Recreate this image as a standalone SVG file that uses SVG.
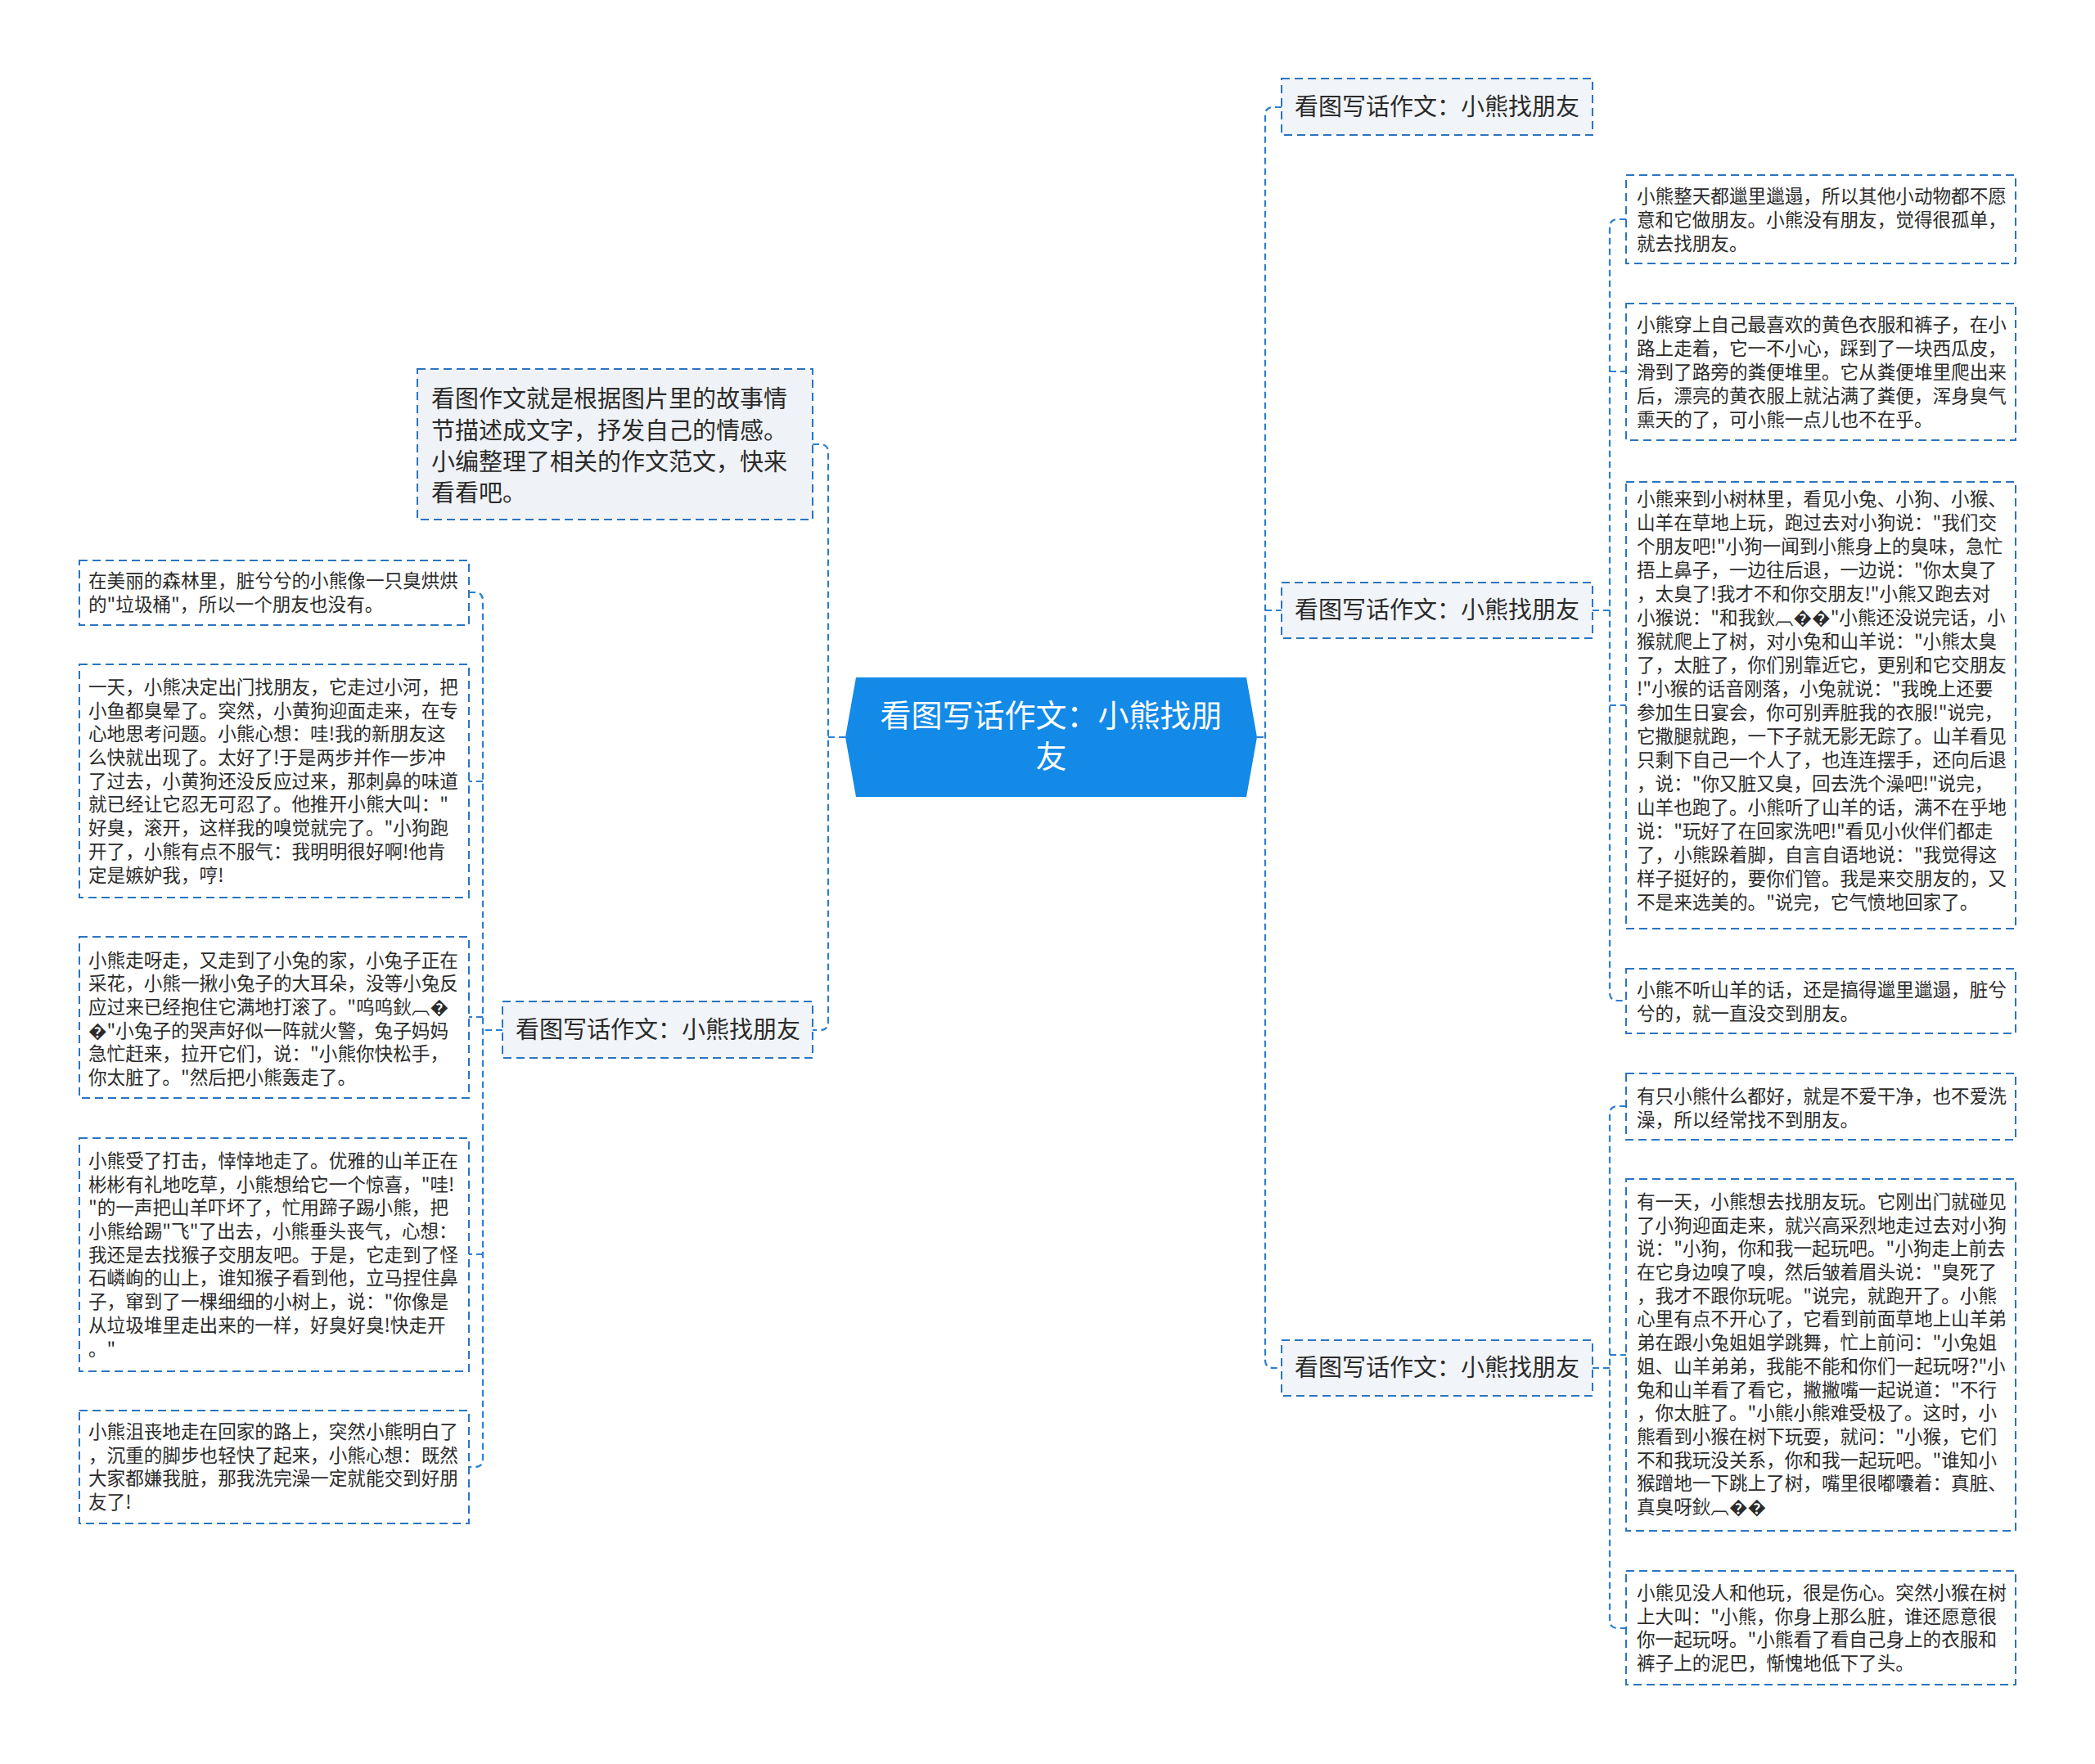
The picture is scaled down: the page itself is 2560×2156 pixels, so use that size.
<svg xmlns="http://www.w3.org/2000/svg" width="2560" height="2156" viewBox="0 0 2560 2156">
<style>
.bg{fill:#ffffff}
.box{fill:#ffffff;stroke:#2b74c0;stroke-width:2;stroke-dasharray:10 6}
.lbl{fill:#f1f4f8;stroke:#2b74c0;stroke-width:2;stroke-dasharray:10 6}
.conn{fill:none;stroke:#2b7fd4;stroke-width:2.2;stroke-dasharray:8 5}
.t{font-family:"Noto Sans CJK SC","Noto Sans",sans-serif;fill:#2b2b2b}
.s{font-size:22.6px}
.m{font-size:29px}
.c{font-size:38px;fill:#ffffff}
</style>
<rect class="bg" x="0" y="0" width="2560" height="2156"/>
<g id="connectors">
<path class="conn" d="M1536,901 H1546"/>
<path class="conn" d="M1566,131 H1556 Q1546,131 1546,141 V1662 Q1546,1672 1556,1672 H1566"/>
<path class="conn" d="M1546,746 H1566"/>
<path class="conn" d="M1946,746 H1967"/>
<path class="conn" d="M1987,268 H1977 Q1967,268 1967,278 V1213 Q1967,1223 1977,1223 H1987"/>
<path class="conn" d="M1967,454 H1987"/>
<path class="conn" d="M1967,862 H1987"/>
<path class="conn" d="M1946,1672 H1967"/>
<path class="conn" d="M1987,1352 H1977 Q1967,1352 1967,1362 V1980 Q1967,1990 1977,1990 H1987"/>
<path class="conn" d="M1967,1656 H1987"/>
<path class="conn" d="M1033,901 H1012"/>
<path class="conn" d="M993,543 H1002 Q1012,543 1012,553 V1249 Q1012,1259 1002,1259 H993"/>
<path class="conn" d="M614,1259 H590"/>
<path class="conn" d="M573,724 H580 Q590,724 590,734 V1783 Q590,1793 580,1793 H573"/>
<path class="conn" d="M590,955 H573"/>
<path class="conn" d="M590,1243 H573"/>
<path class="conn" d="M590,1533 H573"/>
</g>
<g id="center">
<polygon points="1046,828 1523,828 1536,901 1523,974 1046,974 1033,901" fill="#1389e8"/>
<text class="t c" x="1284.5" y="888" text-anchor="middle">看图写话作文：小熊找朋</text>
<text class="t c" x="1284.5" y="938" text-anchor="middle">友</text>
</g>
<g id="r-label-1">
<rect class="lbl" x="1566" y="96" width="380" height="69"/>
<text class="t m" x="1582" y="141">看图写话作文：小熊找朋友</text>
</g>
<g id="r-label-2">
<rect class="lbl" x="1566" y="712" width="380" height="68"/>
<text class="t m" x="1582" y="756">看图写话作文：小熊找朋友</text>
</g>
<g id="r-label-3">
<rect class="lbl" x="1566" y="1638" width="380" height="68"/>
<text class="t m" x="1582" y="1682">看图写话作文：小熊找朋友</text>
</g>
<g id="l-label">
<rect class="lbl" x="614" y="1224" width="379" height="69"/>
<text class="t m" x="630" y="1269">看图写话作文：小熊找朋友</text>
</g>
<g id="intro">
<rect class="lbl" x="510" y="451" width="483" height="184" style="fill:#eff2f6"/>
<text class="t m" x="527" y="498">看图作文就是根据图片里的故事情</text>
<text class="t m" x="527" y="537">节描述成文字，抒发自己的情感。</text>
<text class="t m" x="527" y="575">小编整理了相关的作文范文，快来</text>
<text class="t m" x="527" y="613">看看吧。</text>
</g>
<g id="r-box-1">
<rect class="box" x="1987" y="214" width="476" height="108"/>
<text class="t s" x="2000" y="248">小熊整天都邋里邋遢，所以其他小动物都不愿</text>
<text class="t s" x="2000" y="277">意和它做朋友。小熊没有朋友，觉得很孤单，</text>
<text class="t s" x="2000" y="306">就去找朋友。</text>
</g>
<g id="r-box-2">
<rect class="box" x="1987" y="371" width="476" height="167"/>
<text class="t s" x="2000" y="405">小熊穿上自己最喜欢的黄色衣服和裤子，在小</text>
<text class="t s" x="2000" y="434">路上走着，它一不小心，踩到了一块西瓜皮，</text>
<text class="t s" x="2000" y="463">滑到了路旁的粪便堆里。它从粪便堆里爬出来</text>
<text class="t s" x="2000" y="492">后，漂亮的黄衣服上就沾满了粪便，浑身臭气</text>
<text class="t s" x="2000" y="521">熏天的了，可小熊一点儿也不在乎。</text>
</g>
<g id="r-box-3">
<rect class="box" x="1987" y="589" width="476" height="546"/>
<text class="t s" x="2000" y="618">小熊来到小树林里，看见小兔、小狗、小猴、</text>
<text class="t s" x="2000" y="647">山羊在草地上玩，跑过去对小狗说："我们交</text>
<text class="t s" x="2000" y="676">个朋友吧!"小狗一闻到小熊身上的臭味，急忙</text>
<text class="t s" x="2000" y="705">捂上鼻子，一边往后退，一边说："你太臭了</text>
<text class="t s" x="2000" y="734">，太臭了!我才不和你交朋友!"小熊又跑去对</text>
<text class="t s" x="2000" y="763">小猴说："和我鈥︹��"小熊还没说完话，小</text>
<text class="t s" x="2000" y="792">猴就爬上了树，对小兔和山羊说："小熊太臭</text>
<text class="t s" x="2000" y="821">了，太脏了，你们别靠近它，更别和它交朋友</text>
<text class="t s" x="2000" y="850">!"小猴的话音刚落，小兔就说："我晚上还要</text>
<text class="t s" x="2000" y="879">参加生日宴会，你可别弄脏我的衣服!"说完，</text>
<text class="t s" x="2000" y="908">它撒腿就跑，一下子就无影无踪了。山羊看见</text>
<text class="t s" x="2000" y="937">只剩下自己一个人了，也连连摆手，还向后退</text>
<text class="t s" x="2000" y="966">，说："你又脏又臭，回去洗个澡吧!"说完，</text>
<text class="t s" x="2000" y="995">山羊也跑了。小熊听了山羊的话，满不在乎地</text>
<text class="t s" x="2000" y="1024">说："玩好了在回家洗吧!"看见小伙伴们都走</text>
<text class="t s" x="2000" y="1053">了，小熊跺着脚，自言自语地说："我觉得这</text>
<text class="t s" x="2000" y="1082">样子挺好的，要你们管。我是来交朋友的，又</text>
<text class="t s" x="2000" y="1111">不是来选美的。"说完，它气愤地回家了。</text>
</g>
<g id="r-box-4">
<rect class="box" x="1987" y="1184" width="476" height="79"/>
<text class="t s" x="2000" y="1218">小熊不听山羊的话，还是搞得邋里邋遢，脏兮</text>
<text class="t s" x="2000" y="1247">兮的，就一直没交到朋友。</text>
</g>
<g id="r-box-5">
<rect class="box" x="1987" y="1312" width="476" height="81"/>
<text class="t s" x="2000" y="1348">有只小熊什么都好，就是不爱干净，也不爱洗</text>
<text class="t s" x="2000" y="1377">澡，所以经常找不到朋友。</text>
</g>
<g id="r-box-6">
<rect class="box" x="1987" y="1441" width="476" height="430"/>
<text class="t s" x="2000" y="1477">有一天，小熊想去找朋友玩。它刚出门就碰见</text>
<text class="t s" x="2000" y="1506">了小狗迎面走来，就兴高采烈地走过去对小狗</text>
<text class="t s" x="2000" y="1534">说："小狗，你和我一起玩吧。"小狗走上前去</text>
<text class="t s" x="2000" y="1563">在它身边嗅了嗅，然后皱着眉头说："臭死了</text>
<text class="t s" x="2000" y="1592">，我才不跟你玩呢。"说完，就跑开了。小熊</text>
<text class="t s" x="2000" y="1620">心里有点不开心了，它看到前面草地上山羊弟</text>
<text class="t s" x="2000" y="1649">弟在跟小兔姐姐学跳舞，忙上前问："小兔姐</text>
<text class="t s" x="2000" y="1678">姐、山羊弟弟，我能不能和你们一起玩呀?"小</text>
<text class="t s" x="2000" y="1707">兔和山羊看了看它，撇撇嘴一起说道："不行</text>
<text class="t s" x="2000" y="1735">，你太脏了。"小熊小熊难受极了。这时，小</text>
<text class="t s" x="2000" y="1764">熊看到小猴在树下玩耍，就问："小猴，它们</text>
<text class="t s" x="2000" y="1793">不和我玩没关系，你和我一起玩吧。"谁知小</text>
<text class="t s" x="2000" y="1821">猴蹭地一下跳上了树，嘴里很嘟囔着：真脏、</text>
<text class="t s" x="2000" y="1850">真臭呀鈥︹��</text>
</g>
<g id="r-box-7">
<rect class="box" x="1987" y="1920" width="476" height="139"/>
<text class="t s" x="2000" y="1955">小熊见没人和他玩，很是伤心。突然小猴在树</text>
<text class="t s" x="2000" y="1984">上大叫："小熊，你身上那么脏，谁还愿意很</text>
<text class="t s" x="2000" y="2012">你一起玩呀。"小熊看了看自己身上的衣服和</text>
<text class="t s" x="2000" y="2041">裤子上的泥巴，惭愧地低下了头。</text>
</g>
<g id="l-box-1">
<rect class="box" x="97" y="685" width="476" height="79"/>
<text class="t s" x="108" y="718">在美丽的森林里，脏兮兮的小熊像一只臭烘烘</text>
<text class="t s" x="108" y="747">的"垃圾桶"，所以一个朋友也没有。</text>
</g>
<g id="l-box-2">
<rect class="box" x="97" y="812" width="476" height="285"/>
<text class="t s" x="108" y="848">一天，小熊决定出门找朋友，它走过小河，把</text>
<text class="t s" x="108" y="877">小鱼都臭晕了。突然，小黄狗迎面走来，在专</text>
<text class="t s" x="108" y="905">心地思考问题。小熊心想：哇!我的新朋友这</text>
<text class="t s" x="108" y="934">么快就出现了。太好了!于是两步并作一步冲</text>
<text class="t s" x="108" y="963">了过去，小黄狗还没反应过来，那刺鼻的味道</text>
<text class="t s" x="108" y="991">就已经让它忍无可忍了。他推开小熊大叫："</text>
<text class="t s" x="108" y="1020">好臭，滚开，这样我的嗅觉就完了。"小狗跑</text>
<text class="t s" x="108" y="1049">开了，小熊有点不服气：我明明很好啊!他肯</text>
<text class="t s" x="108" y="1078">定是嫉妒我，哼!</text>
</g>
<g id="l-box-3">
<rect class="box" x="97" y="1145" width="476" height="197"/>
<text class="t s" x="108" y="1182">小熊走呀走，又走到了小兔的家，小兔子正在</text>
<text class="t s" x="108" y="1210">采花，小熊一揪小兔子的大耳朵，没等小兔反</text>
<text class="t s" x="108" y="1239">应过来已经抱住它满地打滚了。"呜呜鈥︹�</text>
<text class="t s" x="108" y="1268">�"小兔子的哭声好似一阵就火警，兔子妈妈</text>
<text class="t s" x="108" y="1296">急忙赶来，拉开它们，说："小熊你快松手，</text>
<text class="t s" x="108" y="1325">你太脏了。"然后把小熊轰走了。</text>
</g>
<g id="l-box-4">
<rect class="box" x="97" y="1391" width="476" height="285"/>
<text class="t s" x="108" y="1427">小熊受了打击，悻悻地走了。优雅的山羊正在</text>
<text class="t s" x="108" y="1456">彬彬有礼地吃草，小熊想给它一个惊喜，"哇!</text>
<text class="t s" x="108" y="1484">"的一声把山羊吓坏了，忙用蹄子踢小熊，把</text>
<text class="t s" x="108" y="1513">小熊给踢"飞"了出去，小熊垂头丧气，心想：</text>
<text class="t s" x="108" y="1542">我还是去找猴子交朋友吧。于是，它走到了怪</text>
<text class="t s" x="108" y="1570">石嶙峋的山上，谁知猴子看到他，立马捏住鼻</text>
<text class="t s" x="108" y="1599">子，窜到了一棵细细的小树上，说："你像是</text>
<text class="t s" x="108" y="1628">从垃圾堆里走出来的一样，好臭好臭!快走开</text>
<text class="t s" x="108" y="1657">。"</text>
</g>
<g id="l-box-5">
<rect class="box" x="97" y="1724" width="476" height="138"/>
<text class="t s" x="108" y="1758">小熊沮丧地走在回家的路上，突然小熊明白了</text>
<text class="t s" x="108" y="1787">，沉重的脚步也轻快了起来，小熊心想：既然</text>
<text class="t s" x="108" y="1815">大家都嫌我脏，那我洗完澡一定就能交到好朋</text>
<text class="t s" x="108" y="1844">友了!</text>
</g>
</svg>
